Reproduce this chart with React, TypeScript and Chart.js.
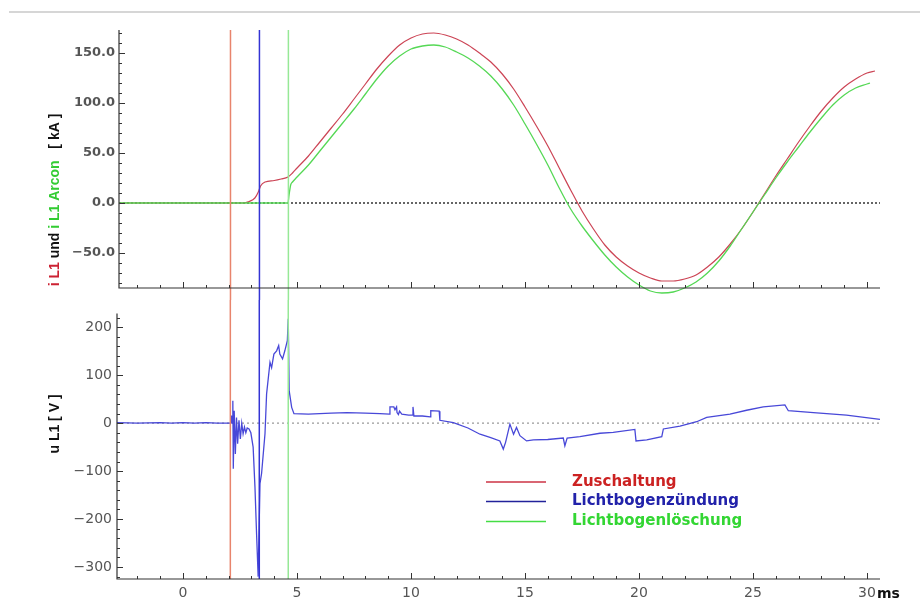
import React, { useEffect, useRef } from 'react';
import { Chart, registerables } from 'chart.js';

Chart.register(...registerables);

// ---------------- data ----------------
const xTicks = [0, 5, 10, 15, 20, 25, 30];
const xUnit = 'ms';
const topYTicks = [-50, 0, 50, 100, 150];
const bottomYTicks = [-300, -200, -100, 0, 100, 200];

// i L1 [kA]
const iL1Times = [-2.81, 2.6, 2.9, 3.15, 3.3, 3.4, 3.6, 4.0, 4.3, 4.6, 4.8, 5.0,
  5.5, 6.0, 6.5, 7.0, 7.5, 8.0, 8.5, 9.0, 9.5, 10.0, 10.5, 11.0, 11.5, 12.0, 12.5, 13.0, 13.5, 14.0, 14.5, 15.0,
  15.5, 16.0, 16.5, 17.0, 17.5, 18.0, 18.5, 19.0, 19.5, 20.0, 20.5, 21.0, 21.5, 22.0, 22.5, 23.0, 23.5, 24.0,
  24.5, 25.0, 25.5, 26.0, 26.5, 27.0, 27.5, 28.0, 28.5, 29.0, 29.5, 30.0, 30.35];
const iL1Values = [0, 0, 1.5, 5, 11, 17, 21, 22.5, 24, 26, 30, 35,
  47, 61, 75, 89, 104, 119, 134, 147, 158, 165, 169, 170, 168, 164, 158, 150, 141, 129, 114, 96,
  77, 57, 35, 13, -8, -26, -42, -54, -63, -70, -75, -78, -78, -76, -72, -64, -54, -41,
  -26, -9, 9, 27, 44, 61, 77, 92, 105, 116, 124, 130, 132];

// i L1 Arcon [kA]
const arconTimes = [-2.81, 4.6, 4.65, 4.72, 4.8, 5.0,
  5.5, 6.0, 6.5, 7.0, 7.5, 8.0, 8.5, 9.0, 9.5, 10.0, 10.5, 11.0, 11.5, 12.0, 12.5, 13.0, 13.5, 14.0, 14.5, 15.0,
  15.5, 16.0, 16.5, 17.0, 17.5, 18.0, 18.5, 19.0, 19.5, 20.0, 20.5, 21.0, 21.5, 22.0, 22.5, 23.0, 23.5, 24.0,
  24.5, 25.0, 25.5, 26.0, 26.5, 27.0, 27.5, 28.0, 28.5, 29.0, 29.5, 30.0, 30.13];
const arconValues = [0, 0, 8, 18, 21, 26,
  38, 52, 66, 80, 94, 109, 124, 137, 147, 154, 157, 158, 156, 151, 145, 137, 127, 114, 98, 79,
  59, 38, 15, -6, -23, -38, -52, -64, -74, -82, -88, -90, -89, -85, -79, -70, -58, -43,
  -26, -9, 8, 25, 41, 56, 71, 85, 98, 108, 115, 119, 120];

// u L1 [V]
const uTimes = [-2.9, -2.0, -1.0, -0.5, 0, 0.5, 1.0, 1.5, 2.1, 2.13, 2.16, 2.19, 2.21, 2.25, 2.3, 2.35, 2.4, 2.46,
  2.52, 2.58, 2.64, 2.7, 2.76, 2.82, 2.9, 2.98, 3.08, 3.16, 3.23, 3.3, 3.38, 3.45, 3.6, 3.67, 3.82, 3.89, 3.99,
  4.11, 4.2, 4.25, 4.37, 4.47, 4.58, 4.62, 4.66, 4.77, 4.87, 5.5, 6.0, 6.5, 7.2, 8.0, 8.64, 9.06, 9.08, 9.25,
  9.3, 9.37, 9.39, 9.45, 9.5, 9.6, 9.9, 10.05, 10.09, 10.13, 10.5, 10.85, 10.87, 11.24, 11.27, 11.86, 12.5,
  13.03, 13.5, 13.9, 14.05, 14.15, 14.34, 14.5, 14.63, 14.78, 15.07, 15.37, 16.0, 16.68, 16.75, 16.85, 17.41,
  18.29, 18.87, 19.82, 19.87, 20.34, 21.0, 21.07, 21.8, 22.53, 22.97, 23.99, 24.72, 25.45, 26.4, 26.55, 27.65,
  29.1, 30.57];
const uValues = [1, 0, 1, 0, 1, 0, 1, 0, 0, 16, 0, 47, -95, 26, -64, 12, -43, 6,
  -33, 0, -22, -8, -20, -10, -12, -20, -50, -133, -230, -320, -126, -105, -22, 61, 127, 116, 144,
  151, 162, 144, 134, 151, 172, 218, 68, 33, 20, 19, 20, 21, 22, 21, 20, 19, 34, 34,
  28, 34, 22, 18, 25, 19, 17, 17, 34, 15, 15, 13, 26, 25, 6, 1, -10,
  -23, -30, -37, -54, -40, -2, -23, -9, -26, -37, -35, -34, -31, -47, -31, -28,
  -21, -19, -13, -37, -35, -28, -12, -6, 3, 12, 19, 27, 34, 38, 26, 22,
  17, 8];

// event markers
const markerTimes = [2.08, 3.35, 4.62];
const markerLabels = ['Zuschaltung', 'Lichtbogenzündung', 'Lichtbogenlöschung'];

// ---------------- styles ----------------
const markerColors = ['#e8846c', '#3434d4', '#96e896'];
const legendLineColors = ['#cc3344', '#22229a', '#44dd44'];
const legendTextColors = ['#cc2222', '#2222aa', '#33d633'];
const iL1Color = '#cc4455';
const arconColor = '#55d855';
const uColor = '#4848d8';
const axisColor = '#333';
const X_MAX = 30.57;

const toXY = (xs: number[], ys: number[]) => xs.map((x, i) => ({ x, y: ys[i] }));

function drawAxesAndTicks(chart: any, yMinor: number, yMajor: number) {
  const { ctx, chartArea: a, scales } = chart;
  const xs = scales.x, ys = scales.y;
  ctx.save();
  ctx.strokeStyle = axisColor;
  ctx.lineWidth = 1.2;
  ctx.setLineDash([]);
  ctx.beginPath();
  ctx.moveTo(a.left, a.top);
  ctx.lineTo(a.left, a.bottom);
  ctx.lineTo(a.right, a.bottom);
  ctx.stroke();
  ctx.lineWidth = 1;
  ctx.beginPath();
  for (let v = Math.ceil(xs.min); v <= Math.floor(xs.max); v++) {
    const px = Math.round(xs.getPixelForValue(v)) + 0.5;
    const len = v % 5 === 0 ? 6 : 3;
    ctx.moveTo(px, a.bottom);
    ctx.lineTo(px, a.bottom - len);
  }
  for (let v = Math.ceil(ys.min / yMinor) * yMinor; v <= ys.max; v += yMinor) {
    const py = Math.round(ys.getPixelForValue(v)) + 0.5;
    const len = v % yMajor === 0 ? 6 : 3;
    ctx.moveTo(a.left, py);
    ctx.lineTo(a.left + len, py);
  }
  ctx.stroke();
  ctx.restore();
}

function drawZero(chart: any, color: string, width: number, dash: number[]) {
  const { ctx, chartArea: a, scales } = chart;
  const y0 = scales.y.getPixelForValue(0);
  ctx.save();
  ctx.strokeStyle = color;
  ctx.lineWidth = width;
  ctx.setLineDash(dash);
  ctx.beginPath();
  ctx.moveTo(a.left, y0);
  ctx.lineTo(a.right, y0);
  ctx.stroke();
  ctx.restore();
}

function drawMarkers(chart: any, y1: number, y2: number) {
  const { ctx, scales } = chart;
  ctx.save();
  ctx.lineWidth = 1.5;
  markerTimes.forEach((t, i) => {
    const px = scales.x.getPixelForValue(t);
    ctx.strokeStyle = markerColors[i];
    ctx.beginPath();
    ctx.moveTo(px, y1);
    ctx.lineTo(px, y2);
    ctx.stroke();
  });
  ctx.restore();
}

const topPlugin = {
  id: 'topDeco',
  beforeDatasetsDraw(chart: any) {
    drawZero(chart, '#333', 1.5, [2, 2]);
  },
  afterDatasetsDraw(chart: any) {
    const { ctx, chartArea: a } = chart;
    drawMarkers(chart, a.top, chart.height);
    drawAxesAndTicks(chart, 10, 50);
    // top grey rule
    ctx.save();
    ctx.strokeStyle = '#c8c8c8';
    ctx.lineWidth = 1.5;
    ctx.beginPath();
    ctx.moveTo(9, 12);
    ctx.lineTo(920, 12);
    ctx.stroke();
    // multicolour y title
    const parts: [string, string][] = [
      ['i L1', '#cc2233'],
      [' und ', '#111'],
      ['i L1 Arcon', '#33cc33'],
      ['   [ kA ]', '#111'],
    ];
    ctx.font = 'bold 14px "Liberation Sans", Arial, sans-serif';
    const total = parts.reduce((s, p) => s + ctx.measureText(p[0]).width, 0);
    ctx.translate(55, 200);
    ctx.rotate(-Math.PI / 2);
    ctx.textBaseline = 'middle';
    ctx.textAlign = 'left';
    let x = -total / 2;
    parts.forEach(([t, c]) => {
      ctx.fillStyle = c;
      ctx.fillText(t, x, 0);
      x += ctx.measureText(t).width;
    });
    ctx.restore();
  },
};

const bottomPlugin = {
  id: 'bottomDeco',
  beforeDatasetsDraw(chart: any) {
    drawZero(chart, '#999', 1.2, [2, 3]);
  },
  afterDatasetsDraw(chart: any) {
    const { ctx, chartArea: a, scales } = chart;
    drawMarkers(chart, 0, a.bottom);
    drawAxesAndTicks(chart, 20, 100);
    ctx.save();
    // y title
    ctx.font = 'bold 14px "Liberation Sans", Arial, sans-serif';
    ctx.fillStyle = '#111';
    ctx.textAlign = 'center';
    ctx.textBaseline = 'middle';
    ctx.translate(55, 124);
    ctx.rotate(-Math.PI / 2);
    ctx.fillText('u L1 [ V ]', 0, 0);
    ctx.restore();
    // legend
    ctx.save();
    const rows = [182, 201.5, 221.5];
    ctx.font = 'bold 15px "DejaVu Sans", sans-serif';
    ctx.textBaseline = 'middle';
    ctx.textAlign = 'left';
    markerLabels.forEach((lab, i) => {
      ctx.strokeStyle = legendLineColors[i];
      ctx.lineWidth = 1.5;
      ctx.beginPath();
      ctx.moveTo(486, rows[i]);
      ctx.lineTo(546, rows[i]);
      ctx.stroke();
      ctx.fillStyle = legendTextColors[i];
      ctx.fillText(lab, 572, rows[i]);
    });
    // unit
    ctx.font = 'bold 14px "DejaVu Sans", sans-serif';
    ctx.fillStyle = '#111';
    ctx.fillText(xUnit, scales.x.getPixelForValue(30) + 10, 294);
    ctx.restore();
  },
};

function xScale(min: number, showLabels: boolean, height: number) {
  return {
    type: 'linear' as const,
    min,
    max: X_MAX,
    grid: { display: false, drawTicks: false },
    border: { display: false },
    afterBuildTicks: (s: any) => { s.ticks = xTicks.map((v) => ({ value: v })); },
    afterFit: (s: any) => { s.height = height; },
    ticks: {
      display: showLabels,
      autoSkip: false,
      maxRotation: 0,
      padding: 6,
      color: '#555',
      font: { family: 'DejaVu Sans', size: 14 },
      callback: (v: any) => String(v),
    },
  };
}

export default function App() {
  const topRef = useRef<HTMLCanvasElement>(null);
  const botRef = useRef<HTMLCanvasElement>(null);

  useEffect(() => {
    Chart.defaults.font.family = 'DejaVu Sans';
    const common = {
      animation: false as const,
      responsive: false,
      devicePixelRatio: 1,
      events: [] as any[],
      plugins: { legend: { display: false }, tooltip: { enabled: false } },
      elements: { point: { radius: 0 } },
    };
    const curveClip = { left: 0, top: 5, right: 5, bottom: 10 };

    const top = new Chart(topRef.current!, {
      type: 'line',
      data: {
        datasets: [
          { data: toXY(arconTimes, arconValues), borderColor: arconColor, borderWidth: 1.3, cubicInterpolationMode: 'monotone', pointRadius: 0, clip: curveClip },
          { data: toXY(iL1Times, iL1Values), borderColor: iL1Color, borderWidth: 1.2, cubicInterpolationMode: 'monotone', pointRadius: 0, clip: curveClip },
        ],
      },
      options: {
        ...common,
        layout: { padding: { top: 30, right: 40, bottom: 0, left: 0 } },
        scales: {
          x: xScale(-2.81, false, 12),
          y: {
            type: 'linear',
            min: -85,
            max: 173,
            grid: { display: false, drawTicks: false },
            border: { display: false },
            afterBuildTicks: (s: any) => { s.ticks = topYTicks.map((v) => ({ value: v })); },
            afterFit: (s: any) => { s.width = 119; },
            ticks: {
              padding: 4,
              color: '#555',
              font: { family: 'DejaVu Sans', size: 13, weight: 'bold' },
              callback: (v: any) => (v < 0 ? '\u2212' : '') + Math.abs(v).toFixed(1),
            },
          },
        },
      } as any,
      plugins: [topPlugin],
    });

    const bot = new Chart(botRef.current!, {
      type: 'line',
      data: {
        datasets: [
          { data: toXY(uTimes, uValues), borderColor: uColor, borderWidth: 1.3, pointRadius: 0, tension: 0 },
        ],
      },
      options: {
        ...common,
        layout: { padding: { top: 13, right: 40, bottom: 0, left: 0 } },
        scales: {
          x: xScale(-2.89, true, 20),
          y: {
            type: 'linear',
            min: -325,
            max: 229,
            grid: { display: false, drawTicks: false },
            border: { display: false },
            afterBuildTicks: (s: any) => { s.ticks = bottomYTicks.map((v) => ({ value: v })); },
            afterFit: (s: any) => { s.width = 117; },
            ticks: {
              padding: 5,
              color: '#555',
              font: { family: 'DejaVu Sans', size: 14 },
              callback: (v: any) => (v < 0 ? '\u2212' : '') + Math.abs(v),
            },
          },
        },
      } as any,
      plugins: [bottomPlugin],
    });

    return () => { top.destroy(); bot.destroy(); };
  }, []);

  return (
    <div style={{ position: 'absolute', left: 0, top: 0, width: 920, height: 599, background: '#fff' }}>
      <canvas ref={topRef} width={920} height={300} style={{ position: 'absolute', left: 0, top: 0, width: 920, height: 300 }} />
      <canvas ref={botRef} width={920} height={299} style={{ position: 'absolute', left: 0, top: 300, width: 920, height: 299 }} />
    </div>
  );
}
